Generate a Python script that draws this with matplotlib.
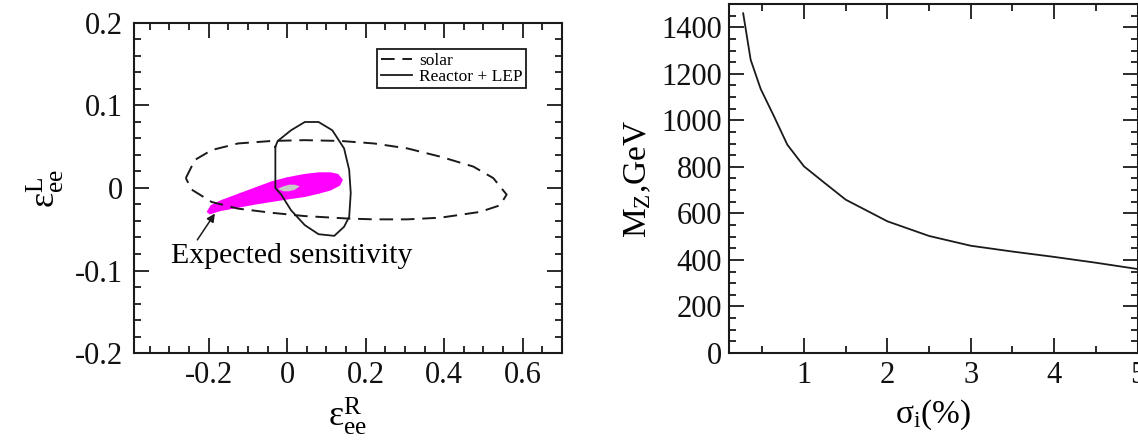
import matplotlib
matplotlib.use("Agg")
import matplotlib.pyplot as plt
from matplotlib.ticker import MultipleLocator

plt.rcParams['font.family'] = ['Liberation Serif', 'DejaVu Serif']
plt.rcParams['mathtext.fontset'] = 'custom'
plt.rcParams['mathtext.rm'] = 'Liberation Serif'
plt.rcParams['mathtext.it'] = 'Liberation Serif:italic'

# contour "solar" (tirets)
solar_x = [-0.258, -0.235, -0.192, -0.125, -0.04, 0.044, 0.137, 0.221, 0.306, 0.39, 0.474, 0.525, 0.559,
           0.542, 0.491, 0.39, 0.306, 0.221, 0.154, 0.044, -0.04, -0.125, -0.192, -0.243, -0.258]
solar_y = [0.012, 0.034, 0.046, 0.054, 0.057, 0.058, 0.057, 0.054, 0.048, 0.038, 0.026, 0.012, -0.008,
           -0.021, -0.029, -0.036, -0.038, -0.038, -0.037, -0.034, -0.030, -0.025, -0.017, -0.002, 0.012]

# contour "Reactor + LEP" (trait plein)
reac_x = [-0.030, -0.024, 0.010, 0.045, 0.080, 0.115, 0.145, 0.158, 0.162, 0.158, 0.145, 0.120,
          0.080, 0.045, 0.010, -0.015, -0.030, -0.030]
reac_y = [0.050, 0.057, 0.070, 0.080, 0.080, 0.070, 0.048, 0.022, -0.006, -0.035, -0.047, -0.058,
          -0.056, -0.045, -0.027, -0.008, 0.000, 0.050]

# sensibilite attendue (zone magenta) et zone grise centrale
sens_x = [-0.205, -0.195, -0.170, -0.125, -0.080, -0.040, 0.000, 0.044, 0.080, 0.111, 0.130, 0.142,
          0.135, 0.111, 0.080, 0.044, 0.000, -0.040, -0.080, -0.125, -0.170, -0.197]
sens_y = [-0.029, -0.021, -0.015, -0.007, 0.001, 0.008, 0.013, 0.017, 0.019, 0.019, 0.017, 0.010,
          0.003, -0.003, -0.007, -0.011, -0.014, -0.017, -0.020, -0.024, -0.028, -0.032]
gris_x = [-0.024, -0.010, 0.005, 0.020, 0.032, 0.020, 0.005, -0.010]
gris_y = [-0.001, 0.002, 0.004, 0.004, 0.002, -0.002, -0.004, -0.004]

# M_Z en fonction de sigma_i
sigma = [0.27, 0.36, 0.48, 0.64, 0.8, 1.0, 1.25, 1.5, 2.0, 2.5, 3.0, 3.5, 4.0, 4.5, 5.0]
mz = [1460, 1260, 1135, 1017, 895, 802, 730, 659, 566, 503, 461, 436, 413, 388, 361]

couleur = '#1a1a1a'


def regler_axes(ax):
    ax.tick_params(which='both', direction='in', top=True, right=True, width=1.3, colors=couleur,
                   labelsize=22, labelcolor='#111111')
    ax.tick_params(which='major', length=10.5, pad=6)
    ax.tick_params(which='minor', length=5)
    for s in ax.spines.values():
        s.set_linewidth(1.5)
        s.set_color(couleur)


def format_zero(v, p):
    if abs(v) < 1e-9:
        return '0'
    return '%g' % v


fig = plt.figure(figsize=(11.38, 4.40), dpi=100)

ax1 = fig.add_axes([134 / 1138, 87 / 440, 428 / 1138, 330 / 440])
ax1.fill(sens_x, sens_y, color='#ff00ff', lw=0)
ax1.fill(gris_x, gris_y, color='#c8c8c8', lw=0)
ax1.plot(solar_x, solar_y, color=couleur, lw=1.4, ls=(0, (7, 4)), label='solar')
ax1.plot(reac_x, reac_y, color=couleur, lw=1.3, label='Reactor + LEP')
ax1.annotate('Expected sensitivity', xy=(-0.184, -0.031), xytext=(-0.295, -0.082),
             fontsize=21.5, va='center', ha='left',
             arrowprops=dict(arrowstyle='-|>', color=couleur, lw=1.1, mutation_scale=12,
                             shrinkA=0, shrinkB=0, relpos=(0.1, 1.0)))
ax1.set_xlim(-0.39, 0.7)
ax1.set_ylim(-0.2, 0.2)
ax1.xaxis.set_major_locator(MultipleLocator(0.2))
ax1.xaxis.set_minor_locator(MultipleLocator(0.05))
ax1.yaxis.set_major_locator(MultipleLocator(0.1))
ax1.yaxis.set_minor_locator(MultipleLocator(0.02))
regler_axes(ax1)
ax1.tick_params(axis='y', pad=8)
ax1.xaxis.set_major_formatter(plt.FuncFormatter(format_zero))
ax1.yaxis.set_major_formatter(plt.FuncFormatter(format_zero))
ax1.set_xlabel(r'$\mathrm{ε}_{\mathrm{ee}}^{\mathrm{R}}$', fontsize=26, labelpad=4)
ax1.set_ylabel(r'$\mathrm{ε}_{\mathrm{ee}}^{\mathrm{L}}$', fontsize=26, labelpad=6)
leg = ax1.legend(loc='upper right', bbox_to_anchor=(0.916, 0.921), borderaxespad=0, fontsize=12.5,
                 fancybox=False, edgecolor=couleur, framealpha=1, handlelength=1.8, handletextpad=0.4,
                 labelspacing=0.0, borderpad=0.2)
leg.get_frame().set_linewidth(1.3)

ax2 = fig.add_axes([729 / 1138, 87 / 440, 408.5 / 1138, 349 / 440])
ax2.plot(sigma, mz, color=couleur, lw=1.3)
ax2.set_xlim(0.1, 5.0)
ax2.set_ylim(0, 1500)
ax2.xaxis.set_major_locator(MultipleLocator(1))
ax2.xaxis.set_minor_locator(MultipleLocator(0.5))
ax2.yaxis.set_major_locator(MultipleLocator(200))
ax2.yaxis.set_minor_locator(MultipleLocator(50))
regler_axes(ax2)
ax2.tick_params(axis='y', pad=5)
ax2.set_xlabel(r'$\mathrm{σ}_{\mathrm{i}}$(%)', fontsize=24, labelpad=5)
ax2.set_ylabel(r'M$_{\mathrm{Z}}$,GeV', fontsize=24, labelpad=6)

fig.savefig('out.png', dpi=100)
